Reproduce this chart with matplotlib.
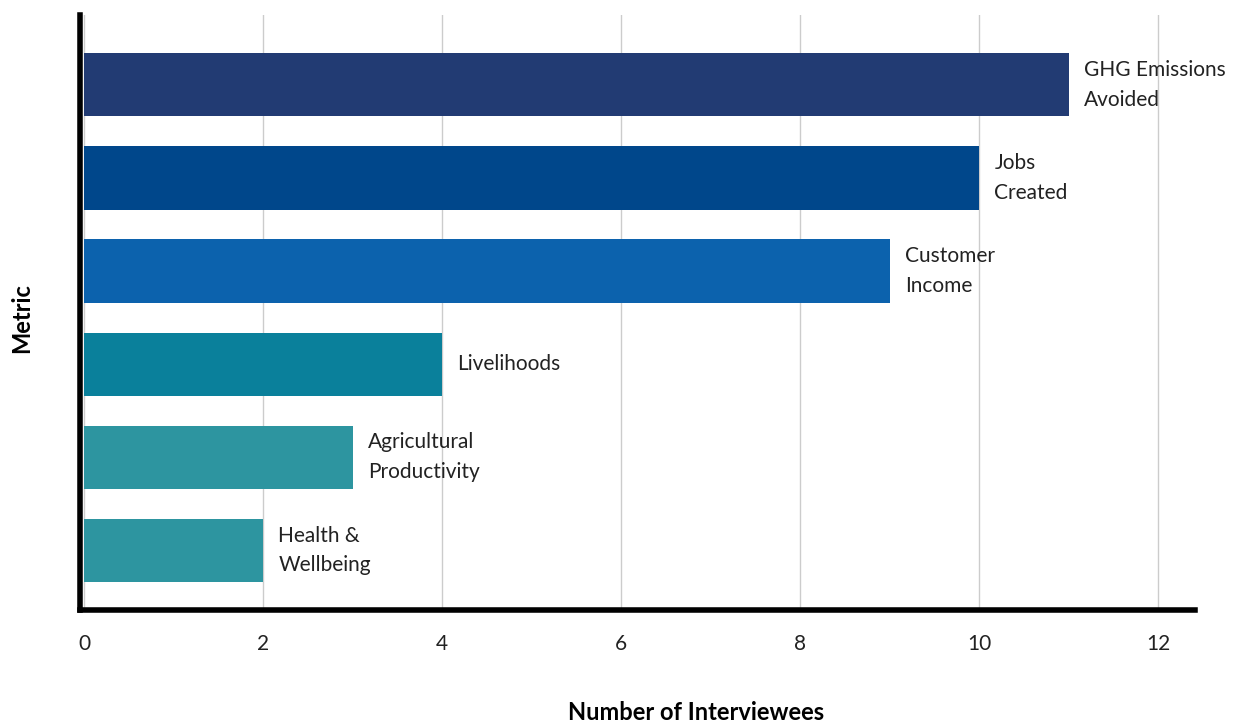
import matplotlib
matplotlib.use("Agg")
import matplotlib.pyplot as plt

categories = ["Health &\nWellbeing", "Agricultural\nProductivity", "Livelihoods",
              "Customer\nIncome", "Jobs\nCreated", "GHG Emissions\nAvoided"]
values = [2, 3, 4, 9, 10, 11]
colors = ["#2D95A0", "#2D95A0", "#0A809B", "#0C62AD", "#00478B", "#223B73"]
xticks = [0, 2, 4, 6, 8, 10, 12]

plt.rcParams['font.family'] = ['Lato', 'DejaVu Sans']

fig = plt.figure(figsize=(12.39, 7.26), dpi=100)
ax = fig.add_axes([80/1239, (726-610)/726, 1115/1239, 595/726])

ypos = list(range(len(categories)))
ax.barh(ypos, values, height=0.68, color=colors, zorder=2)
for y, v, c in zip(ypos, values, categories):
    ax.text(v + 0.17, y, c, va='center', ha='left', fontsize=15, fontweight='normal',
            color='#222222', linespacing=1.6, zorder=3)

ax.set_xlim(-0.045, 12.41)
ax.set_ylim(-0.64, 5.75)
ax.set_xticks(xticks)
ax.set_xticklabels([str(t) for t in xticks], fontsize=15, fontweight='normal', color='#222222')
ax.set_yticks([])
ax.tick_params(axis='x', length=0, pad=17)
ax.grid(axis='x', color='#cccccc', linewidth=1, zorder=0)
for s in ['top', 'right']:
    ax.spines[s].set_visible(False)
for s in ['left', 'bottom']:
    ax.spines[s].set_linewidth(4)
    ax.spines[s].set_color('black')

fig.text(696/1239, 1 - 712/726, "Number of Interviewees", ha='center', va='center',
         fontsize=17, fontweight='bold')
fig.text(22/1239, 1 - 318/726, "Metric", ha='center', va='center', rotation=90,
         fontsize=17, fontweight='bold')

fig.savefig("out.png", dpi=100)
